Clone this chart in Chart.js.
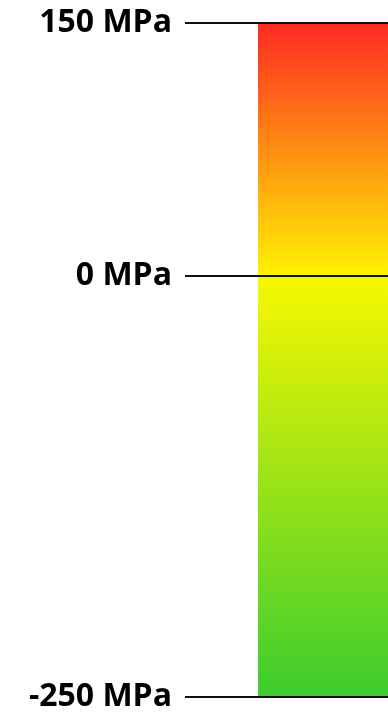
<!DOCTYPE html>
<html>
<head>
<meta charset="utf-8">
<script src="https://cdn.jsdelivr.net/npm/chart.js@4"></script>
<style>
  html, body { margin: 0; padding: 0; background: #ffffff; overflow: hidden; }
</style>
</head>
<body>
<canvas id="scale" width="388" height="714"></canvas>
<script>
// Stress colour scale: one floating bar spanning the full range
const categories = ['stress'];
const stressRange = [-250, 150];          // MPa, bottom and top of the bar
const tickValues = [150, 0, -250];        // MPa, labelled levels
const tickUnit = 'MPa';
const stopValues = [150, 0, 0, -250];     // MPa, where each colour sits
const stopColors = ['#ff2a22', '#fff200', '#f8f800', '#3ccc30'];

function gradientFill(context) {
  const chart = context.chart;
  if (!chart.chartArea) return stopColors[0];
  const y = chart.scales.y;
  const top = y.getPixelForValue(stressRange[1]);
  const bottom = y.getPixelForValue(stressRange[0]);
  const g = chart.ctx.createLinearGradient(0, top, 0, bottom);
  stopValues.forEach((v, i) => {
    const f = (y.getPixelForValue(v) - top) / (bottom - top);
    g.addColorStop(Math.min(1, Math.max(0, f)), stopColors[i]);
  });
  return g;
}

new Chart(document.getElementById('scale'), {
  type: 'bar',
  data: {
    labels: categories,
    datasets: [{
      data: [stressRange],
      backgroundColor: gradientFill,
      borderWidth: 0,
      barPercentage: 1,
      categoryPercentage: 1
    }]
  },
  options: {
    responsive: false,
    animation: false,
    devicePixelRatio: 1,
    layout: { padding: { top: 23, bottom: 17, left: 0, right: 0 } },
    plugins: { legend: { display: false }, tooltip: { enabled: false } },
    scales: {
      x: { display: false },
      y: {
        type: 'linear',
        min: stressRange[0],
        max: stressRange[1],
        border: { display: false },
        grid: { color: '#111111', lineWidth: 2, tickLength: 73, drawTicks: true, z: 1 },
        ticks: {
          padding: 13,
          color: '#000000',
          font: { family: 'Open Sans', weight: 'bold', size: 32 },
          callback: v => v + ' ' + tickUnit
        },
        afterBuildTicks: s => { s.ticks = tickValues.map(v => ({ value: v })); },
        afterFit: s => { s.width = 258; s.paddingTop = 0; s.paddingBottom = 0; }
      }
    }
  }
});
</script>
</body>
</html>
